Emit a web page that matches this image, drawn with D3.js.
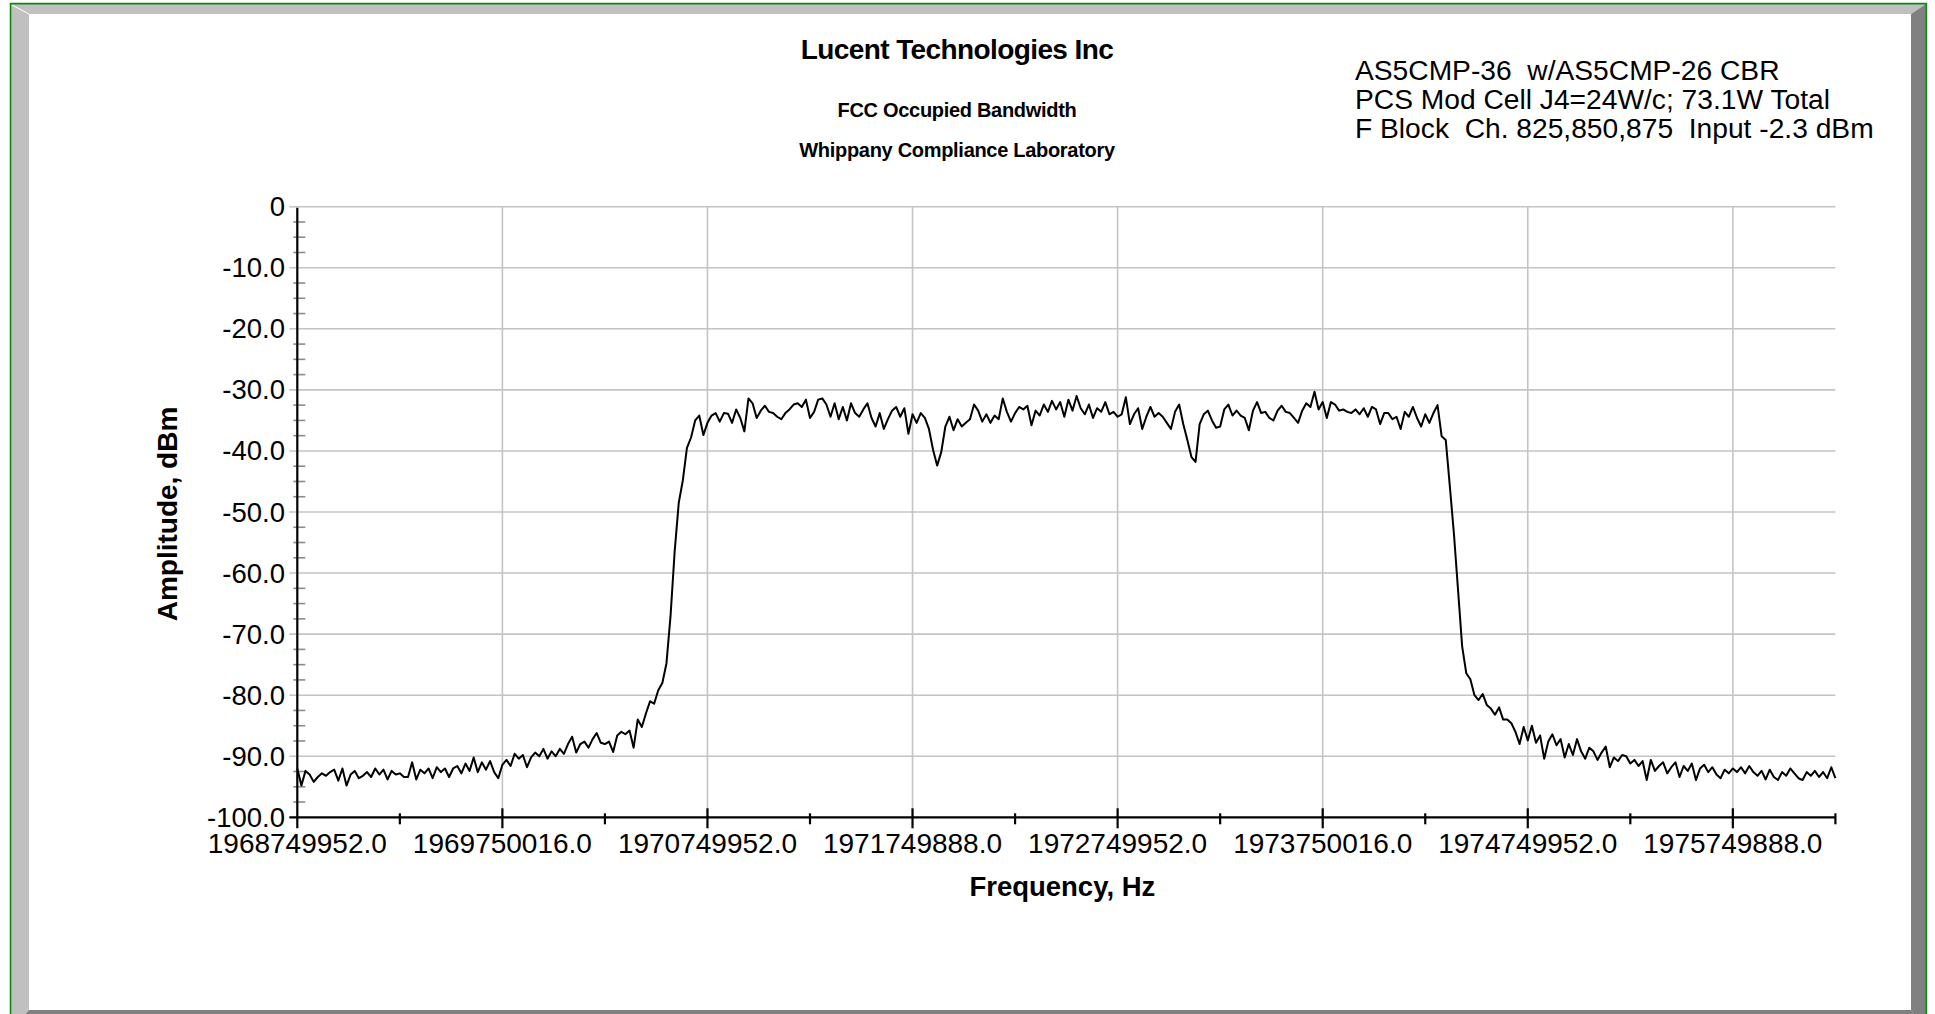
<!DOCTYPE html>
<html lang="en">
<head>
    <meta charset="UTF-8">
    <title>FCC Occupied Bandwidth</title>
    <script src="https://d3js.org/d3.v7.min.js"></script>
    <style>
        html, body { margin: 0; padding: 0; background: #fff; }
        svg { display: block; font-family: "Liberation Sans", Arial, sans-serif; }
    </style>
</head>
<body>
    <svg id="canvas" width="1935" height="1014"></svg>

    <script>
        // sweep settings (Hz) and the measured trace, one reading per sweep point
        const sweepStartHz = 1968750000;
        const sweepStopHz = 1976250000;
        const amplitudeDbm = [
            -92.0, -94.8, -92.4, -93.0, -94.2, -93.4, -92.8, -93.2, -92.6, -92.2,
            -94.0, -92.0, -94.8, -93.0, -92.4, -93.6, -93.2, -92.6, -93.4, -92.0,
            -93.0, -92.2, -93.8, -92.4, -93.0, -92.8, -93.4, -93.4, -91.0, -93.8,
            -92.2, -92.8, -92.0, -93.6, -91.8, -92.6, -92.0, -93.4, -92.0, -91.6,
            -92.8, -91.2, -92.4, -90.2, -92.6, -91.0, -92.2, -90.8, -92.6, -93.6,
            -91.4, -90.6, -91.6, -89.6, -90.4, -89.8, -91.8, -90.2, -89.4, -90.0,
            -88.8, -90.4, -89.2, -90.0, -88.8, -89.6, -88.0, -86.8, -89.4, -88.0,
            -87.6, -88.6, -87.2, -86.2,
            -87.8, -88.0, -87.6, -89.3, -86.6, -86.0, -86.4, -85.8, -88.6, -84.0,
            -85.2, -83.0, -81.0, -81.4, -79.2, -78.0, -74.8, -67.0, -56.5, -48.5,
            -44.8, -39.5, -37.8, -35.0, -34.2, -37.4, -35.4, -34.2, -33.8, -35.2,
            -33.8, -33.9, -35.4, -33.2, -34.6, -36.8, -31.4,
            -32.2, -34.6, -33.4, -32.6, -33.6, -33.8, -34.4, -34.8, -33.8, -33.2,
            -32.4, -32.2, -32.8, -31.6, -34.6, -33.6, -31.6, -31.4, -32.4, -34.4,
            -32.2, -34.8, -32.8, -35.0, -32.2, -33.8, -34.4, -33.2, -32.2, -34.6,
            -36.0, -33.8, -36.4, -34.8, -33.4, -32.8, -34.4, -33.0, -37.2, -34.0,
            -35.4, -33.8, -34.6, -36.4, -39.8, -42.4, -40.2, -36.0, -34.4, -36.6,
            -34.8, -36.0, -35.4,
            -34.8, -32.4, -33.4, -35.2, -34.0, -35.4, -34.2, -34.8, -31.4, -33.6,
            -35.2, -33.8, -32.8, -33.2, -32.6, -35.8, -33.4, -34.2, -32.4, -33.6,
            -31.8, -33.2, -32.0, -34.4, -31.6, -33.4, -31.0, -33.0, -34.0, -32.4,
            -34.6, -33.0, -33.6, -32.0, -34.0, -33.6, -34.4, -34.0, -31.2,
            -35.6, -34.0, -33.0, -36.4, -34.4, -32.8, -34.4, -33.8, -34.4, -35.4,
            -36.4, -33.6, -32.4, -35.6, -38.2, -41.0, -41.8, -35.6, -34.0, -33.4,
            -35.0, -36.2, -36.0, -33.2, -32.4, -34.2, -33.4, -34.2, -34.6, -36.6,
            -33.4, -32.0, -33.8, -33.6, -34.6, -35.0, -33.4, -32.6, -33.6, -33.8,
            -34.6, -35.4, -33.4, -32.2, -32.8, -30.3, -33.2, -32.0, -34.6, -32.0,
            -32.4, -33.4, -33.2, -33.6, -33.8, -33.2, -34.0, -33.0, -34.4, -32.8,
            -33.2, -35.6, -33.8, -33.8, -34.8, -34.4, -36.4, -33.6, -34.4, -32.8,
            -34.6, -36.0, -34.0, -35.4, -33.8, -32.5, -37.6, -38.2,
            -45.8, -53.6, -62.8, -72.0, -76.4, -77.4, -80.0, -80.8, -79.8, -81.6,
            -82.2, -83.2, -82.0, -84.0, -84.0, -84.6, -86.0, -88.0, -85.2, -87.4,
            -85.0, -87.8, -86.6, -90.4, -87.6, -86.4, -88.2, -87.2, -90.2, -88.0,
            -89.8, -87.2, -89.2,
            -90.4, -88.6, -89.2, -90.6, -89.4, -88.4, -91.8, -90.2, -90.8, -89.8,
            -90.0, -91.2, -90.6, -91.6, -90.8, -93.9, -90.6, -92.4, -91.6, -91.0,
            -92.8, -91.8, -91.0, -93.4, -91.6, -92.4, -91.2, -93.9, -92.0, -91.4,
            -92.6, -91.8, -93.0, -93.6, -92.2, -92.8, -92.0, -92.6, -91.8, -92.8,
            -91.6, -92.6, -93.2, -92.4, -93.8, -92.2, -93.4, -93.9, -92.6, -93.2,
            -92.0, -92.8, -93.6, -93.9, -92.6, -93.2, -92.4, -93.4, -92.6, -93.6,
            -91.8, -93.6
        ];

        const xTickValues = [1968749952, 1969750016, 1970749952, 1971749888,
                             1972749952, 1973750016, 1974749952, 1975749888];
        const xTickLabels = ["1968749952.0", "1969750016.0", "1970749952.0", "1971749888.0",
                             "1972749952.0", "1973750016.0", "1974749952.0", "1975749888.0"];
        const xMinorTicks = [1969250000, 1970250000, 1971250000, 1972250000,
                             1973250000, 1974250000, 1975250000, 1976250000];

        const yTickValues = [0, -10, -20, -30, -40, -50, -60, -70, -80, -90, -100];
        const yTickLabels = ["0", "-10.0", "-20.0", "-30.0", "-40.0", "-50.0",
                             "-60.0", "-70.0", "-80.0", "-90.0", "-100.0"];

        const titleLines = ["Lucent Technologies Inc", "FCC Occupied Bandwidth", "Whippany Compliance Laboratory"];
        const noteLines = ["AS5CMP-36  w/AS5CMP-26 CBR",
                           "PCS Mod Cell J4=24W/c; 73.1W Total",
                           "F Block  Ch. 825,850,875  Input -2.3 dBm"];
        const xTitle = "Frequency, Hz";
        const yTitle = "Amplitude, dBm";

        let canvas = d3.select("#canvas");

        let plotLeft = 297.3, plotRight = 1835.4, plotTop = 206.7, plotBottom = 817.3;

        let xScale = d3.scaleLinear().domain([sweepStartHz, sweepStopHz]).range([plotLeft, plotRight]);
        let yScale = d3.scaleLinear().domain([-100, 0]).range([plotBottom, plotTop]);

        let stepHz = (sweepStopHz - sweepStartHz) / (amplitudeDbm.length - 1);

        // ---- bevelled frame ----
        let frame = canvas.append("g");
        let poly = (pts, fill) => frame.append("polygon")
            .attr("points", pts.map(p => p.join(",")).join(" "))
            .attr("fill", fill);
        poly([[11, 4], [1926, 4], [1911, 14], [29, 14]], "#c0c0c0");
        poly([[11, 4], [29, 14], [29, 1010], [11, 1030]], "#c0c0c0");
        poly([[1926, 4], [1926, 1030], [1911, 1010], [1911, 14]], "#808080");
        poly([[29, 1010], [1911, 1010], [1926, 1030], [11, 1030]], "#808080");
        frame.append("line").attr("x1", 11).attr("y1", 4.5).attr("x2", 29).attr("y2", 14)
            .attr("stroke", "#fff").attr("stroke-width", 1);
        frame.append("path")
            .attr("d", "M10.5,1014 V3.6 H1926.4 V1014")
            .attr("fill", "none").attr("stroke", "#0a8a0a").attr("stroke-width", 1.6);

        // ---- grid ----
        let grid = canvas.append("g").attr("stroke", "#c4c4c4").attr("stroke-width", 1.6);
        grid.selectAll("line.h")
            .data(yTickValues.filter(v => v > -100))
            .enter()
            .append("line")
            .attr("x1", plotLeft - 8).attr("x2", plotRight)
            .attr("y1", d => yScale(d)).attr("y2", d => yScale(d));
        grid.selectAll("line.v")
            .data(xTickValues.slice(1))
            .enter()
            .append("line")
            .attr("x1", d => xScale(d)).attr("x2", d => xScale(d))
            .attr("y1", plotTop).attr("y2", plotBottom);

        // ---- y minor ticks ----
        let yMinor = d3.range(-97.5, 0, 2.5).filter(v => v % 10 !== 0);
        canvas.append("g").attr("stroke", "#8c8c8c").attr("stroke-width", 1.6)
            .selectAll("line")
            .data(yMinor)
            .enter()
            .append("line")
            .attr("x1", plotLeft - 4).attr("x2", plotLeft + 8)
            .attr("y1", d => yScale(d)).attr("y2", d => yScale(d));

        // ---- axes ----
        let axes = canvas.append("g").attr("stroke", "#000").attr("stroke-width", 2.2);
        axes.append("line")
            .attr("x1", plotLeft).attr("x2", plotLeft)
            .attr("y1", plotTop + 1).attr("y2", plotBottom + 11);
        axes.append("line")
            .attr("x1", plotLeft - 8).attr("x2", plotRight)
            .attr("y1", plotBottom).attr("y2", plotBottom);
        axes.selectAll("line.major")
            .data(xTickValues.slice(1))
            .enter()
            .append("line")
            .attr("x1", d => xScale(d)).attr("x2", d => xScale(d))
            .attr("y1", plotBottom - 9).attr("y2", plotBottom + 11);
        axes.selectAll("line.minor")
            .data(xMinorTicks)
            .enter()
            .append("line")
            .attr("x1", d => xScale(d)).attr("x2", d => xScale(d))
            .attr("y1", plotBottom - 4).attr("y2", plotBottom + 7);

        // ---- trace ----
        let trace = d3.line()
            .x((d, i) => xScale(sweepStartHz + i * stepHz))
            .y(d => yScale(d));
        canvas.append("path")
            .datum(amplitudeDbm)
            .attr("d", trace)
            .attr("fill", "none")
            .attr("stroke", "#000")
            .attr("stroke-width", 2)
            .attr("stroke-linejoin", "round");

        // ---- tick labels ----
        canvas.append("g")
            .selectAll("text")
            .data(yTickValues)
            .enter()
            .append("text")
            .attr("x", 285)
            .attr("y", d => yScale(d) + 9.5)
            .attr("text-anchor", "end")
            .attr("font-size", 27.5)
            .text((d, i) => yTickLabels[i]);

        canvas.append("g")
            .selectAll("text")
            .data(xTickValues)
            .enter()
            .append("text")
            .attr("x", d => xScale(d))
            .attr("y", 853)
            .attr("text-anchor", "middle")
            .attr("font-size", 28)
            .text((d, i) => xTickLabels[i]);

        // ---- axis titles ----
        canvas.append("text")
            .attr("x", (plotLeft + plotRight) / 2 - 4)
            .attr("y", 896)
            .attr("text-anchor", "middle")
            .attr("font-size", 27.5)
            .attr("font-weight", "bold")
            .text(xTitle);

        canvas.append("text")
            .attr("transform", `translate(177, ${(plotTop + plotBottom) / 2 + 2}) rotate(-90)`)
            .attr("text-anchor", "middle")
            .attr("font-size", 28)
            .attr("font-weight", "bold")
            .text(yTitle);

        // ---- titles ----
        let titleSizes = [28, 20, 20];
        let titleY = [59, 116.7, 157.3];
        let titleSpacing = [-0.6, -0.3, -0.3];
        canvas.append("g")
            .selectAll("text")
            .data(titleLines)
            .enter()
            .append("text")
            .attr("x", 957)
            .attr("y", (d, i) => titleY[i])
            .attr("text-anchor", "middle")
            .attr("font-weight", "bold")
            .attr("font-size", (d, i) => titleSizes[i])
            .attr("letter-spacing", (d, i) => titleSpacing[i])
            .text(d => d);

        // ---- annotation, top right ----
        canvas.append("g")
            .selectAll("text")
            .data(noteLines)
            .enter()
            .append("text")
            .attr("x", 1355)
            .attr("y", (d, i) => 80 + i * 28.8)
            .attr("font-size", 28.2)
            .style("white-space", "pre")
            .text(d => d);
    </script>
</body>
</html>
